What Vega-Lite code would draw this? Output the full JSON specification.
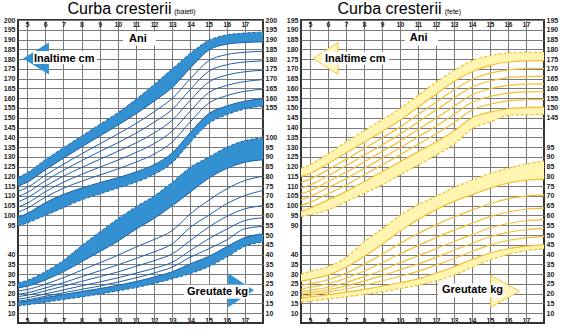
{
"$schema":"https://vega.github.io/schema/vega-lite/v6.json",
"padding":{"left":2,"right":0,"top":0,"bottom":0},
"autosize":{"type":"pad"},
"datasets":{
"boysH":[
{"age":4.5,"c1":119.5,"c2":115,"c3":112.3,"c4":109.7,"c5":107,"c6":104.3,"c7":101.7,"c8":99,"c9":94.6},
{"age":5,"c1":121.8,"c2":117,"c3":114.3,"c4":111.7,"c5":109,"c6":106.3,"c7":103.7,"c8":101,"c9":96.2},
{"age":6,"c1":128.5,"c2":123.3,"c3":120.5,"c4":117.7,"c5":114.9,"c6":112.1,"c7":109.3,"c8":106.5,"c9":100},
{"age":7,"c1":134.6,"c2":129.3,"c3":126.2,"c4":123.1,"c5":120.1,"c6":117,"c7":113.9,"c8":110.8,"c9":104},
{"age":8,"c1":140.6,"c2":135,"c3":131.5,"c4":128,"c5":124.5,"c6":121,"c7":117.5,"c8":114,"c9":108},
{"age":9,"c1":146.6,"c2":140.6,"c3":136.6,"c4":132.7,"c5":128.7,"c6":124.7,"c7":120.7,"c8":116.8,"c9":111},
{"age":10,"c1":152.6,"c2":146.2,"c3":141.7,"c4":137.2,"c5":132.8,"c6":128.3,"c7":123.8,"c8":119.3,"c9":114},
{"age":11,"c1":159.4,"c2":152,"c3":147,"c4":142.1,"c5":137.1,"c6":132.2,"c7":127.3,"c8":122.3,"c9":117},
{"age":12,"c1":167,"c2":158.5,"c3":153.1,"c4":147.7,"c5":142.2,"c6":136.8,"c7":131.4,"c8":126,"c9":121},
{"age":13,"c1":175,"c2":165.5,"c3":159.9,"c4":154.3,"c5":148.8,"c6":143.2,"c7":137.6,"c8":132,"c9":127},
{"age":14,"c1":183,"c2":175.5,"c3":170,"c4":164.5,"c5":159,"c6":153.5,"c7":148,"c8":142.5,"c9":137.5},
{"age":15,"c1":189.5,"c2":184.5,"c3":179.1,"c4":173.7,"c5":168.2,"c6":162.8,"c7":157.4,"c8":152,"c9":147},
{"age":16,"c1":192.4,"c2":187.6,"c3":182.3,"c4":177.1,"c5":171.8,"c6":166.5,"c7":161.3,"c8":156,"c9":151.5},
{"age":17,"c1":193.3,"c2":188.5,"c3":183.5,"c4":178.5,"c5":173.5,"c6":168.5,"c7":163.5,"c8":158.5,"c9":154.5},
{"age":18,"c1":193.9,"c2":188.8,"c3":184,"c4":179.1,"c5":174.3,"c6":169.5,"c7":164.6,"c8":159.8,"c9":156}
],
"boysW":[
{"age":4.5,"c1":25.5,"c2":23,"c3":21.4,"c4":19.7,"c5":18.5,"c6":17.2,"c7":16.2,"c8":15.6,"c9":13.8},
{"age":5,"c1":26.8,"c2":23.8,"c3":22.1,"c4":20.4,"c5":19.2,"c6":17.9,"c7":16.8,"c8":16.2,"c9":14.3},
{"age":6,"c1":31.2,"c2":27,"c3":24.8,"c4":22.9,"c5":21.4,"c6":19.9,"c7":18.7,"c8":18,"c9":15.6},
{"age":7,"c1":37,"c2":31.2,"c3":28.2,"c4":25.6,"c5":23.8,"c6":21.9,"c7":20.5,"c8":19.6,"c9":17},
{"age":8,"c1":44.5,"c2":36.3,"c3":32,"c4":28.7,"c5":26.3,"c6":24,"c7":22.2,"c8":21.1,"c9":18.3},
{"age":9,"c1":51.5,"c2":41.5,"c3":35.8,"c4":31.7,"c5":28.7,"c6":26,"c7":23.9,"c8":22.6,"c9":19.8},
{"age":10,"c1":58.3,"c2":46.8,"c3":39.6,"c4":34.7,"c5":31.1,"c6":28.1,"c7":25.9,"c8":24.3,"c9":21.4},
{"age":11,"c1":64.5,"c2":53,"c3":43.9,"c4":38,"c5":34,"c6":30.5,"c7":28.1,"c8":26.2,"c9":23.1},
{"age":12,"c1":70,"c2":58.5,"c3":47.7,"c4":41.4,"c5":36.9,"c6":33,"c7":30.6,"c8":28.5,"c9":25.2},
{"age":13,"c1":77,"c2":65,"c3":52.3,"c4":45.5,"c5":40.4,"c6":36.1,"c7":33.6,"c8":31.2,"c9":27.6},
{"age":14,"c1":84.7,"c2":72,"c3":60.9,"c4":54,"c5":47.2,"c6":42.1,"c7":38.7,"c8":35.3,"c9":30.3},
{"age":15,"c1":89.8,"c2":79,"c3":67.7,"c4":60,"c5":54,"c6":48,"c7":42.9,"c8":39,"c9":33.8},
{"age":16,"c1":94.9,"c2":84,"c3":73.6,"c4":66,"c5":59.5,"c6":53,"c7":47.5,"c8":44,"c9":38.7},
{"age":17,"c1":98.3,"c2":87.2,"c3":77.9,"c4":70.2,"c5":63.4,"c6":57.4,"c7":53.2,"c8":48.7,"c9":44.2},
{"age":18,"c1":99.7,"c2":88.5,"c3":80,"c4":72.8,"c5":65,"c6":58.8,"c7":54.4,"c8":50.6,"c9":46.4}
],
"girlsH":[
{"age":4.5,"c1":119.1,"c2":114.9,"c3":111.9,"c4":109,"c5":106,"c6":103,"c7":100.1,"c8":97.1,"c9":94.5},
{"age":5,"c1":121,"c2":116.5,"c3":113.6,"c4":110.6,"c5":107.7,"c6":104.7,"c7":101.7,"c8":98.8,"c9":95.4},
{"age":6,"c1":126.4,"c2":121.5,"c3":118.4,"c4":115.3,"c5":112.3,"c6":109.2,"c7":106.1,"c8":103,"c9":97.9},
{"age":7,"c1":132.6,"c2":127,"c3":123.7,"c4":120.4,"c5":117.1,"c6":113.8,"c7":110.5,"c8":107.2,"c9":102.1},
{"age":8,"c1":138.2,"c2":132.5,"c3":129.1,"c4":125.8,"c5":122.4,"c6":119,"c7":115.7,"c8":112.3,"c9":106.4},
{"age":9,"c1":144,"c2":138,"c3":134.6,"c4":131.1,"c5":127.7,"c6":124.3,"c7":120.8,"c8":117.4,"c9":110.6},
{"age":10,"c1":149.6,"c2":143.7,"c3":140.2,"c4":136.6,"c5":133.1,"c6":129.6,"c7":126,"c8":122.5,"c9":115.8},
{"age":11,"c1":156.4,"c2":150.4,"c3":146.6,"c4":142.8,"c5":139,"c6":135.2,"c7":131.4,"c8":127.6,"c9":120.8},
{"age":12,"c1":163.1,"c2":157,"c3":152.9,"c4":148.9,"c5":144.8,"c6":140.7,"c7":136.7,"c8":132.6,"c9":125.9},
{"age":13,"c1":169.1,"c2":163.5,"c3":159.3,"c4":155.1,"c5":150.8,"c6":146.6,"c7":142.4,"c8":138.2,"c9":131.5},
{"age":14,"c1":174.2,"c2":168.5,"c3":164.6,"c4":160.7,"c5":156.8,"c6":152.9,"c7":149,"c8":145,"c9":139.4},
{"age":15,"c1":176.7,"c2":171.8,"c3":167.8,"c4":163.8,"c5":159.9,"c6":155.9,"c7":151.9,"c8":147.9,"c9":142.8},
{"age":16,"c1":178.1,"c2":173.5,"c3":169.5,"c4":165.5,"c5":161.6,"c6":157.6,"c7":153.6,"c8":149.6,"c9":146.2},
{"age":17,"c1":178.4,"c2":174.1,"c3":170.1,"c4":166.1,"c5":162.2,"c6":158.2,"c7":154.2,"c8":150.2,"c9":146.6},
{"age":18,"c1":178.5,"c2":174.2,"c3":170.2,"c4":166.3,"c5":162.3,"c6":158.3,"c7":154.4,"c8":150.4,"c9":146.7}
],
"girlsW":[
{"age":4.5,"c1":30,"c2":26.3,"c3":24.2,"c4":22.4,"c5":20.9,"c6":19.7,"c7":18.6,"c8":17.5,"c9":15.8},
{"age":5,"c1":31.3,"c2":27.3,"c3":25.1,"c4":23.3,"c5":21.7,"c6":20.5,"c7":19.3,"c8":18.2,"c9":16.2},
{"age":6,"c1":33.8,"c2":29.5,"c3":27.1,"c4":25.1,"c5":23.3,"c6":22,"c7":20.8,"c8":19.5,"c9":17.3},
{"age":7,"c1":38.5,"c2":33.5,"c3":30.5,"c4":27.9,"c5":25.7,"c6":24,"c7":22.4,"c8":20.8,"c9":18.4},
{"age":8,"c1":46.5,"c2":39,"c3":35,"c4":31.6,"c5":28.7,"c6":26.4,"c7":24.3,"c8":22.2,"c9":19.6},
{"age":9,"c1":53,"c2":45.2,"c3":40.1,"c4":35.8,"c5":32,"c6":29.2,"c7":26.5,"c8":23.8,"c9":21},
{"age":10,"c1":60,"c2":52,"c3":45.7,"c4":40.4,"c5":35.8,"c6":32.2,"c7":28.9,"c8":25.6,"c9":22.6},
{"age":11,"c1":65.5,"c2":58,"c3":50.7,"c4":44.6,"c5":39.3,"c6":35.2,"c7":31.4,"c8":27.6,"c9":24.3},
{"age":12,"c1":69.7,"c2":63,"c3":55.2,"c4":48.7,"c5":43,"c6":38.6,"c7":34.6,"c8":30.5,"c9":26.5},
{"age":13,"c1":74.3,"c2":67.2,"c3":59.2,"c4":52.5,"c5":46.7,"c6":42.2,"c7":38,"c8":33.8,"c9":29.5},
{"age":14,"c1":78,"c2":70.6,"c3":62.7,"c4":56,"c5":50.2,"c6":45.8,"c7":41.6,"c8":37.5,"c9":33.5},
{"age":15,"c1":81.5,"c2":74,"c3":66,"c4":59.4,"c5":53.6,"c6":49.1,"c7":45,"c8":40.8,"c9":37.3},
{"age":16,"c1":84.1,"c2":76.6,"c3":68.5,"c4":61.8,"c5":55.9,"c6":51.4,"c7":47.2,"c8":43,"c9":40},
{"age":17,"c1":86.3,"c2":78,"c3":69.9,"c4":63.2,"c5":57.3,"c6":52.7,"c7":48.5,"c8":44.3,"c9":42},
{"age":18,"c1":87.8,"c2":78.6,"c3":70.5,"c4":63.8,"c5":57.9,"c6":53.4,"c7":49.2,"c8":45,"c9":43}
]
},
"spacing":6,
"hconcat":[
{
"width":245,"height":303,
"title":{"text":"Curba cresterii","dx":-21,"offset":-9},
"layer":[
{"layer":[
{"data":{"name":"boysH"},"mark":{"type":"area","color":"#3391d2","opacity":1,"interpolate":"monotone"},
"encoding":{
"x":{"field":"age","type":"quantitative","scale":{"domain":[4.5,18],"nice":false,"zero":false},"axis":{"orient":"bottom","values":[5,6,7,8,9,10,11,12,13,14,15,16,17],"tickCount":100,"format":"d","grid":true,"labelOverlap":false,"labelPadding":-7,"title":null}},
"y":{"field":"c1","type":"quantitative","scale":{"domain":[45,200],"nice":false,"zero":false},"axis":{"orient":"left","values":[50,55,60,65,70,75,80,85,90,95,100,105,110,115,120,125,130,135,140,145,150,155,160,165,170,175,180,185,190,195,200],"tickCount":100,"grid":true,"labelOverlap":false,"labelPadding":3,"minExtent":15,"maxExtent":15,"title":null,"labelExpr":"datum.value >= 95 ? datum.value : (datum.value <= 80 ? datum.value - 40 : '')"}},
"y2":{"field":"c2"}}},
{"data":{"name":"boysH"},"mark":{"type":"area","color":"#3391d2","opacity":1,"interpolate":"monotone"},
"encoding":{"x":{"field":"age","type":"quantitative"},"y":{"field":"c8","type":"quantitative"},"y2":{"field":"c9"}}},
{"data":{"name":"boysH"},"transform":[{"fold":["c2","c3","c4","c5","c6","c7","c8"]}],"mark":{"type":"line","color":"#1f5ea6","strokeWidth":1,"interpolate":"monotone"},
"encoding":{"x":{"field":"age","type":"quantitative"},"y":{"field":"value","type":"quantitative"},"detail":{"field":"key"}}},
{"data":{"name":"boysH"},"transform":[{"fold":["c1","c9"]}],"mark":{"type":"line","color":"#1f5ea6","strokeWidth":1,"strokeDash":[3,2],"interpolate":"monotone"},
"encoding":{"x":{"field":"age","type":"quantitative"},"y":{"field":"value","type":"quantitative"},"detail":{"field":"key"}}},
{"data":{"values":[{"age":5.49,"v":180.3}]},"mark":{"type":"point","shape":"M 0.81 -1 L -0.81 0 L 0.81 1 Z","size":1024,"filled":true,"color":"#3391d2","opacity":1},
"encoding":{"x":{"field":"age","type":"quantitative"},"y":{"field":"v","type":"quantitative"}}},
{"data":{"values":[{"a1":10.29,"a2":12.1,"v1":194.1,"v2":186.9},{"a1":5.33,"a2":8.85,"v1":184.1,"v2":177.5}]},"mark":{"type":"rect","color":"white","opacity":1},
"encoding":{"x":{"field":"a1","type":"quantitative"},"x2":{"field":"a2"},"y":{"field":"v1","type":"quantitative"},"y2":{"field":"v2"}}},
{"data":{"values":[{"label":"Ani","age":10.62,"v":190.5},{"label":"Inaltime cm","age":5.38,"v":180.3}]},"mark":{"type":"text","font":"Liberation Sans","fontSize":11,"fontWeight":"bold","color":"#000","align":"left","baseline":"middle"},
"encoding":{"x":{"field":"age","type":"quantitative"},"y":{"field":"v","type":"quantitative"},"text":{"field":"label"}}},
{"data":{"values":[{"label":"(baieti)","age":13.7,"v":204}]},"mark":{"type":"text","font":"Liberation Sans","fontSize":7,"color":"#000","align":"center","baseline":"middle"},
"encoding":{"x":{"field":"age","type":"quantitative"},"y":{"field":"v","type":"quantitative"},"text":{"field":"label"}}}
]},
{"layer":[
{"data":{"name":"boysW"},"mark":{"type":"area","color":"#3391d2","opacity":1,"interpolate":"monotone"},
"encoding":{
"x":{"field":"age","type":"quantitative","axis":{"orient":"top","values":[5,6,7,8,9,10,11,12,13,14,15,16,17],"tickCount":100,"format":"d","grid":false,"labelOverlap":false,"labelPadding":-7,"title":null}},
"y":{"field":"c1","type":"quantitative","scale":{"domain":[5,160],"nice":false,"zero":false},"axis":{"orient":"right","values":[10,15,20,25,30,35,40,45,50,55,60,65,70,75,80,85,90,95,100,105,110,115,120,125,130,135,140,145,150,155,160],"tickCount":100,"grid":false,"labelOverlap":false,"labelPadding":2,"minExtent":15,"maxExtent":15,"title":null,"labelExpr":"datum.value <= 100 ? datum.value : (datum.value >= 115 ? datum.value + 40 : '')"}},
"y2":{"field":"c2"}}},
{"data":{"name":"boysW"},"mark":{"type":"area","color":"#3391d2","opacity":1,"interpolate":"monotone"},
"encoding":{"x":{"field":"age","type":"quantitative"},"y":{"field":"c8","type":"quantitative"},"y2":{"field":"c9"}}},
{"data":{"name":"boysW"},"transform":[{"fold":["c2","c3","c4","c5","c6","c7","c8"]}],"mark":{"type":"line","color":"#1f5ea6","strokeWidth":1,"interpolate":"monotone"},
"encoding":{"x":{"field":"age","type":"quantitative"},"y":{"field":"value","type":"quantitative"},"detail":{"field":"key"}}},
{"data":{"name":"boysW"},"transform":[{"fold":["c1","c9"]}],"mark":{"type":"line","color":"#1f5ea6","strokeWidth":1,"strokeDash":[3,2],"interpolate":"monotone"},
"encoding":{"x":{"field":"age","type":"quantitative"},"y":{"field":"value","type":"quantitative"},"detail":{"field":"key"}}},
{"data":{"values":[{"age":16.79,"w":21.7}]},"mark":{"type":"point","shape":"M -0.76 -1 L 0.76 0 L -0.76 1 Z","size":1156,"filled":true,"color":"#3391d2","opacity":1},
"encoding":{"x":{"field":"age","type":"quantitative"},"y":{"field":"w","type":"quantitative"}}},
{"data":{"values":[{"a1":13.65,"a2":17.23,"w1":24.6,"w2":17.4}]},"mark":{"type":"rect","color":"white","opacity":1},
"encoding":{"x":{"field":"a1","type":"quantitative"},"x2":{"field":"a2"},"y":{"field":"w1","type":"quantitative"},"y2":{"field":"w2"}}},
{"data":{"values":[{"label":"Greutate kg","age":13.81,"w":20.9}]},"mark":{"type":"text","font":"Liberation Sans","fontSize":11,"fontWeight":"bold","color":"#000","align":"left","baseline":"middle"},
"encoding":{"x":{"field":"age","type":"quantitative"},"y":{"field":"w","type":"quantitative"},"text":{"field":"label"}}}
]}
],
"resolve":{"scale":{"y":"independent"},"axis":{"x":"independent","y":"independent"}}
},
{
"width":243,"height":303,
"title":{"text":"Curba cresterii","dx":-33,"offset":-9},
"layer":[
{"layer":[
{"data":{"name":"girlsH"},"mark":{"type":"area","color":"#fff5b0","opacity":1,"interpolate":"monotone"},
"encoding":{
"x":{"field":"age","type":"quantitative","scale":{"domain":[4.5,18],"nice":false,"zero":false},"axis":{"orient":"bottom","values":[5,6,7,8,9,10,11,12,13,14,15,16,17],"tickCount":100,"format":"d","grid":true,"labelOverlap":false,"labelPadding":-7,"title":null}},
"y":{"field":"c1","type":"quantitative","scale":{"domain":[40,195],"nice":false,"zero":false},"axis":{"orient":"left","values":[45,50,55,60,65,70,75,80,85,90,95,100,105,110,115,120,125,130,135,140,145,150,155,160,165,170,175,180,185,190,195],"tickCount":100,"grid":true,"labelOverlap":false,"labelPadding":3,"minExtent":15,"maxExtent":15,"title":null,"labelExpr":"datum.value >= 90 ? datum.value : (datum.value <= 75 ? datum.value - 35 : '')"}},
"y2":{"field":"c2"}}},
{"data":{"name":"girlsH"},"mark":{"type":"area","color":"#fff5b0","opacity":1,"interpolate":"monotone"},
"encoding":{"x":{"field":"age","type":"quantitative"},"y":{"field":"c8","type":"quantitative"},"y2":{"field":"c9"}}},
{"data":{"name":"girlsH"},"transform":[{"fold":["c2","c3","c4","c5","c6","c7","c8"]}],"mark":{"type":"line","color":"#f2c030","strokeWidth":1.2,"interpolate":"monotone"},
"encoding":{"x":{"field":"age","type":"quantitative"},"y":{"field":"value","type":"quantitative"},"detail":{"field":"key"}}},
{"data":{"name":"girlsH"},"transform":[{"fold":["c1","c9"]}],"mark":{"type":"line","color":"#efbf30","strokeWidth":1.2,"strokeDash":[3,2],"interpolate":"monotone"},
"encoding":{"x":{"field":"age","type":"quantitative"},"y":{"field":"value","type":"quantitative"},"detail":{"field":"key"}}},
{"data":{"values":[{"age":5.86,"v":175.3}]},"mark":{"type":"point","shape":"M 0.78 -1 L -0.78 0 L 0.78 1 Z","size":1024,"filled":true,"fill":"#fff6bf","stroke":"#efc443","strokeWidth":1,"opacity":1},
"encoding":{"x":{"field":"age","type":"quantitative"},"y":{"field":"v","type":"quantitative"}}},
{"data":{"values":[{"a1":10.26,"a2":12.11,"v1":189.1,"v2":181.9},{"a1":5.67,"a2":9.39,"v1":178.8,"v2":172.2}]},"mark":{"type":"rect","color":"white","opacity":1},
"encoding":{"x":{"field":"a1","type":"quantitative"},"x2":{"field":"a2"},"y":{"field":"v1","type":"quantitative"},"y2":{"field":"v2"}}},
{"data":{"values":[{"label":"Ani","age":10.54,"v":185.6},{"label":"Inaltime cm","age":5.83,"v":175.3}]},"mark":{"type":"text","font":"Liberation Sans","fontSize":11,"fontWeight":"bold","color":"#000","align":"left","baseline":"middle"},
"encoding":{"x":{"field":"age","type":"quantitative"},"y":{"field":"v","type":"quantitative"},"text":{"field":"label"}}},
{"data":{"values":[{"label":"(fete)","age":12.94,"v":199}]},"mark":{"type":"text","font":"Liberation Sans","fontSize":7,"color":"#000","align":"center","baseline":"middle"},
"encoding":{"x":{"field":"age","type":"quantitative"},"y":{"field":"v","type":"quantitative"},"text":{"field":"label"}}}
]},
{"layer":[
{"data":{"name":"girlsW"},"mark":{"type":"area","color":"#fff5b0","opacity":1,"interpolate":"monotone"},
"encoding":{
"x":{"field":"age","type":"quantitative","axis":{"orient":"top","values":[5,6,7,8,9,10,11,12,13,14,15,16,17],"tickCount":100,"format":"d","grid":false,"labelOverlap":false,"labelPadding":-7,"title":null}},
"y":{"field":"c1","type":"quantitative","scale":{"domain":[5,160],"nice":false,"zero":false},"axis":{"orient":"right","values":[10,15,20,25,30,35,40,45,50,55,60,65,70,75,80,85,90,95,100,105,110,115,120,125,130,135,140,145,150,155,160],"tickCount":100,"grid":false,"labelOverlap":false,"labelPadding":2,"minExtent":15,"maxExtent":15,"title":null,"labelExpr":"datum.value <= 95 ? datum.value : (datum.value >= 110 ? datum.value + 35 : '')"}},
"y2":{"field":"c2"}}},
{"data":{"name":"girlsW"},"mark":{"type":"area","color":"#fff5b0","opacity":1,"interpolate":"monotone"},
"encoding":{"x":{"field":"age","type":"quantitative"},"y":{"field":"c8","type":"quantitative"},"y2":{"field":"c9"}}},
{"data":{"name":"girlsW"},"transform":[{"fold":["c2","c3","c4","c5","c6","c7","c8"]}],"mark":{"type":"line","color":"#f2c030","strokeWidth":1.2,"interpolate":"monotone"},
"encoding":{"x":{"field":"age","type":"quantitative"},"y":{"field":"value","type":"quantitative"},"detail":{"field":"key"}}},
{"data":{"name":"girlsW"},"transform":[{"fold":["c1","c9"]}],"mark":{"type":"line","color":"#efbf30","strokeWidth":1.2,"strokeDash":[3,2],"interpolate":"monotone"},
"encoding":{"x":{"field":"age","type":"quantitative"},"y":{"field":"value","type":"quantitative"},"detail":{"field":"key"}}},
{"data":{"values":[{"age":15.84,"w":21.25}]},"mark":{"type":"point","shape":"M -0.9 -1 L 0.9 0 L -0.9 1 Z","size":1024,"filled":true,"fill":"#fff6bf","stroke":"#efc443","strokeWidth":1,"opacity":1},
"encoding":{"x":{"field":"age","type":"quantitative"},"y":{"field":"w","type":"quantitative"}}},
{"data":{"values":[{"a1":12.11,"a2":15.72,"w1":25.2,"w2":18.1}]},"mark":{"type":"rect","color":"white","opacity":1},
"encoding":{"x":{"field":"a1","type":"quantitative"},"x2":{"field":"a2"},"y":{"field":"w1","type":"quantitative"},"y2":{"field":"w2"}}},
{"data":{"values":[{"label":"Greutate kg","age":12.33,"w":21.8}]},"mark":{"type":"text","font":"Liberation Sans","fontSize":11,"fontWeight":"bold","color":"#000","align":"left","baseline":"middle"},
"encoding":{"x":{"field":"age","type":"quantitative"},"y":{"field":"w","type":"quantitative"},"text":{"field":"label"}}}
]}
],
"resolve":{"scale":{"y":"independent"},"axis":{"x":"independent","y":"independent"}}
}
],
"config":{
"view":{"stroke":"#333333","strokeWidth":2},
"axis":{"labelFont":"Liberation Sans","labelFontSize":7,"labelFontWeight":"bold","labelColor":"#222","ticks":false,"domain":false,"gridColor":"#7a7a7a","gridWidth":1,"gridOpacity":1,"labelOverlap":false,"labelFlush":false,"labelBound":false},
"title":{"font":"Liberation Sans","fontSize":16,"fontWeight":"normal","color":"#000","anchor":"middle"}
}
}
